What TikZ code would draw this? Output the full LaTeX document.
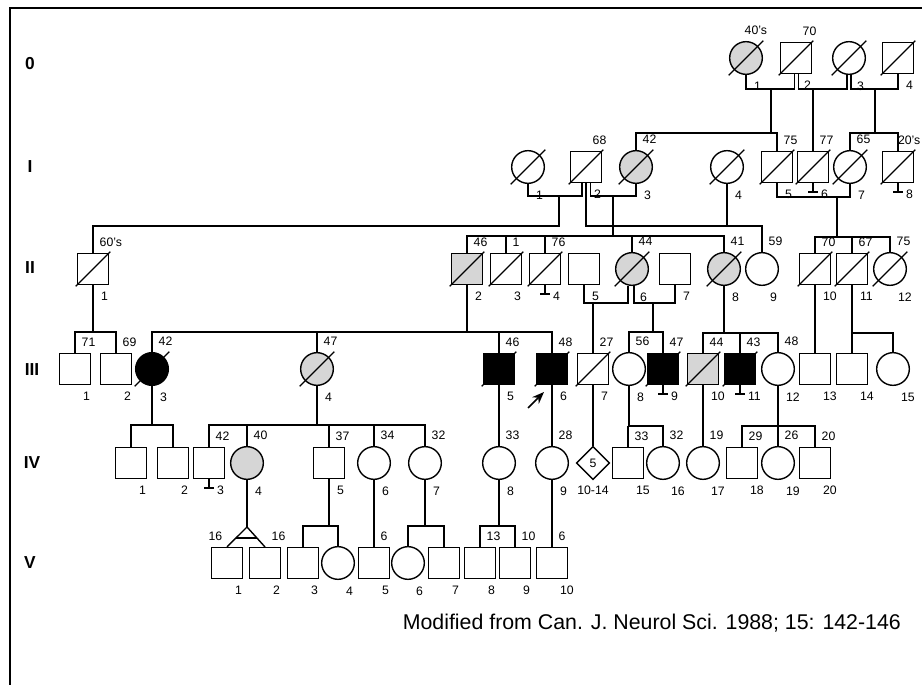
\documentclass[tikz,border=0pt]{standalone}
\usepackage{fontspec}
\setmainfont{Liberation Sans}
\usetikzlibrary{shapes.geometric,arrows.meta,calc}

% slash through a deceased person, stopper mark below
\newcommand{\dead}[1]{\draw ([shift={(-13pt,-13pt)}]#1.center) -- ([shift={(13pt,13pt)}]#1.center);}
\newcommand{\stopper}[1]{\draw (#1.south) -- ++(0,9) ++(-5,0) -- ++(10,0);}

\tikzset{
  male/.style={draw, rectangle, minimum size=23pt, inner sep=0pt},
  female/.style={draw, circle, minimum size=24.5pt, inner sep=0pt},
  multi/.style={draw, diamond, minimum size=25pt, inner sep=0pt},
  dotfill/.style={fill=gray!32},
  affected/.style={fill=black},
  agelab/.style={anchor=south west, inner sep=1pt, xshift=3.5pt, yshift=3.5pt},
  age/.style={label={[agelab]north:#1}},
  idlab/.style={anchor=north west, inner sep=1pt, xshift=4.5pt, yshift=-3.5pt},
  idn/.style={label={[idlab]south:#1}},
  gen/.style={font=\fontsize{13}{15}\selectfont\bfseries},
  probarrow/.style={-{Stealth[length=9pt,width=7pt]}, line width=1.2pt}
}

\begin{document}
\begin{tikzpicture}[x=0.75pt, y=-0.75pt, line width=1.05pt,
  every node/.style={font=\fontsize{9.2}{10}\selectfont}]
\useasboundingbox (0,0) rectangle (922,685);

% Frame
\draw (10,685) -- (10,8) -- (922,8);

% Generation labels
\node[gen] (r0) at (30,64) {0};
\node[gen] (rI) at (30,167) {I};
\node[gen] (rII) at (30,268) {II};
\node[gen] (rIII) at (32,370) {III};
\node[gen] (rIV) at (32,463) {IV};
\node[gen] (rV) at (30,563) {V};

% Generation 0
\node[female, dotfill, label={[agelab, xshift=-6pt]north:40's}, idn=1] (O1) at (746,58) {};
\node[male, age=70, idn=2] (O2) at (796,58) {};
\node[female, idn=3] (O3) at (849,58) {};
\node[male, idn=4] (O4) at (898,58) {};
\dead{O1} \dead{O2} \dead{O3} \dead{O4}

% Generation I
\node[female, idn=1] (I1) at (528,167) {};
\node[male, age=68, idn=2] (I2) at (586,167) {};
\node[female, dotfill, age=42, idn=3] (I3) at (636,167) {};
\node[female, idn=4] (I4) at (727,167) {};
\node[male, age=75, idn=5] (I5) at (777,167) {};
\node[male, age=77, idn=6] (I6) at (813,167) {};
\node[female, age=65, idn=7] (I7) at (850,167) {};
\node[male, label={[agelab, xshift=-5pt]north:20's}, idn=8] (I8) at (898,167) {};
\dead{I1} \dead{I2} \dead{I3} \dead{I4} \dead{I5} \dead{I6} \dead{I7} \dead{I8}
\stopper{I6} \stopper{I8}

% Generation II
\node[male, age=60's, idn=1] (II1) at (93,269) {};
\node[male, dotfill, age=46, idn=2] (II2) at (467,269) {};
\node[male, age=1, idn=3] (II3) at (506,269) {};
\node[male, age=76, idn=4] (II4) at (545,269) {};
\node[male, idn=5] (II5) at (584,269) {};
\node[female, dotfill, age=44, idn=6] (II6) at (632,269) {};
\node[male, idn=7] (II7) at (675,269) {};
\node[female, dotfill, age=41, idn=8] (II8) at (724,269) {};
\node[female, age=59, idn=9] (II9) at (762,269) {};
\node[male, age=70, idn=10] (II10) at (815,269) {};
\node[male, age=67, idn=11] (II11) at (852,269) {};
\node[female, age=75, idn=12] (II12) at (890,269) {};
\dead{II1} \dead{II2} \dead{II3} \dead{II4} \dead{II6} \dead{II8}
\dead{II10} \dead{II11} \dead{II12}
\stopper{II4}

% Generation III
\node[male, age=71, idn=1] (III1) at (75,369) {};
\node[male, age=69, idn=2] (III2) at (116,369) {};
\node[female, affected, age=42, idn=3] (III3) at (152,369) {};
\node[female, dotfill, age=47, idn=4] (III4) at (317,369) {};
\node[male, affected, age=46, idn=5] (III5) at (499,369) {};
\node[male, affected, age=48, idn=6] (III6) at (552,369) {};
\node[male, age=27, idn=7] (III7) at (593,369) {};
\node[female, age=56, idn=8] (III8) at (629,369) {};
\node[male, affected, age=47, idn=9] (III9) at (663,369) {};
\node[male, dotfill, age=44, idn=10] (III10) at (703,369) {};
\node[male, affected, age=43, idn=11] (III11) at (740,369) {};
\node[female, age=48, idn=12] (III12) at (778,369) {};
\node[male, idn=13] (III13) at (815,369) {};
\node[male, idn=14] (III14) at (852,369) {};
\node[female, idn=15] (III15) at (893,369) {};
\dead{III3} \dead{III4} \dead{III5} \dead{III6} \dead{III7} \dead{III9}
\dead{III10} \dead{III11}
\stopper{III9} \stopper{III11}

% Proband
\coordinate (prbtail) at (528,408);
\coordinate (prbtip) at (544,392);
\draw[probarrow] (prbtail) -- (prbtip);

% Generation IV
\node[male, idn=1] (IV1) at (131,463) {};
\node[male, idn=2] (IV2) at (173,463) {};
\node[male, age=42, idn=3] (IV3) at (209,463) {};
\node[female, dotfill, age=40, idn=4] (IV4) at (247,463) {};
\node[male, age=37, idn=5] (IV5) at (329,463) {};
\node[female, age=34, idn=6] (IV6) at (374,463) {};
\node[female, age=32, idn=7] (IV7) at (425,463) {};
\node[female, age=33, idn=8] (IV8) at (499,463) {};
\node[female, age=28, idn=9] (IV9) at (552,463) {};
\node[multi, label={[anchor=north, inner sep=1pt, yshift=-3pt]south:10-14}] (IVd) at (593,463) {5};
\node[male, age=33, idn=15] (IV15) at (628,463) {};
\node[female, age=32, idn=16] (IV16) at (663,463) {};
\node[female, age=19, idn=17] (IV17) at (703,463) {};
\node[male, age=29, idn=18] (IV18) at (742,463) {};
\node[female, age=26, idn=19] (IV19) at (778,463) {};
\node[male, age=20, idn=20] (IV20) at (815,463) {};
\stopper{IV3}

% Generation V
\node[male, label={[anchor=south east, inner sep=1pt, xshift=-2pt, yshift=3.5pt]north:16}, idn=1] (V1) at (227,563) {};
\node[male, age=16, idn=2] (V2) at (265,563) {};
\node[male, idn=3] (V3) at (303,563) {};
\node[female, idn=4] (V4) at (338,563) {};
\node[male, age=6, idn=5] (V5) at (374,563) {};
\node[female, idn=6] (V6) at (408,563) {};
\node[male, idn=7] (V7) at (444,563) {};
\node[male, age=13, idn=8] (V8) at (480,563) {};
\node[male, age=10, idn=9] (V9) at (515,563) {};
\node[male, age=6, idn=10] (V10) at (552,563) {};

% Generation 0 unions
\coordinate (uO12) at (771,89);
\coordinate (uO23) at (813,89);
\coordinate (uO34) at (875,89);
\coordinate (bI1) at (771,133);
\coordinate (bI2) at (875,133);
\draw (O1.south) |- (uO12) -| ([xshift=-1pt]O2.south);
\draw ([xshift=2pt]O2.south) |- (uO23) -| ([xshift=-1.5pt]O3.south);
\draw ([xshift=1.5pt]O3.south) |- (uO34) -| (O4.south);
\draw (uO12) -- (bI1);
\draw (I3.north) |- (bI1) -| (I5.north);
\draw (uO23) -- (I6.north);
\draw (uO34) -- (bI2);
\draw (I7.north) |- (bI2) -| (I8.north);

% Generation I unions
\coordinate (uI12) at (559,196);
\coordinate (uI13) at (613,196);
\coordinate (uI14) at (727,226);
\coordinate (uI57) at (837,197);
\coordinate (cII1) at (559,226);
\coordinate (bII1) at (613,236);
\coordinate (bII2) at (837,237);
\draw (I1.south) |- (uI12) -| ([xshift=-3pt]I2.south);
\draw ([xshift=3.5pt]I2.south) |- (uI13) -| (I3.south);
\draw (uI12) -- (cII1) -| (II1.north);
\draw (uI13) -- (bII1);
\draw (II2.north) |- (bII1) -| (II8.north);
\draw (II3.north) -- (II3.north |- bII1);
\draw (II4.north) -- (II4.north |- bII1);
\draw (II6.north) -- (II6.north |- bII1);
\draw (I2.south) |- (uI14) -| (II9.north);
\draw (I4.south) -- (uI14);
\draw (I5.south) |- (uI57) -| (I7.south);
\draw (uI57) -- (bII2);
\draw (II10.north) |- (bII2) -| (II12.north);
\draw (II11.north) -- (II11.north |- bII2);

% Generation II unions
\coordinate (bIII1) at (93,332);
\coordinate (bIII2) at (467,332);
\coordinate (uII56) at (593,303);
\coordinate (uII67) at (653,303);
\coordinate (bIII3) at (653,332);
\coordinate (bIII4) at (724,333);
\coordinate (bIII5) at (852,333);
\draw (II1.south) -- (bIII1);
\draw (III1.north) |- (bIII1) -| (III2.north);
\draw (II2.south) -- (bIII2);
\draw (III3.north) |- (bIII2) -| (III6.north);
\draw (III4.north) -- (III4.north |- bIII2);
\draw (III5.north) -- (III5.north |- bIII2);
\draw (II5.south) |- (uII56) -| ([xshift=-3pt]II6.south);
\draw ([xshift=1.5pt]II6.south) |- (uII67) -| (II7.south);
\draw (uII56) -- (III7.north);
\draw (uII67) -- (bIII3);
\draw (III8.north) |- (bIII3) -| (III9.north);
\draw (II8.south) -- (bIII4);
\draw (III10.north) |- (bIII4) -| (III12.north);
\draw (III11.north) -- (III11.north |- bIII4);
\draw (II10.south) -- (III13.north);
\draw (II11.south) -- (III14.north);
\draw (bIII5) -| (III15.north);

% Generation III unions
\coordinate (bIV1) at (152,425);
\coordinate (bIV2) at (317,425);
\coordinate (bIV3) at (628,426);
\coordinate (bIV4) at (778,426);
\draw (III3.south) -- (bIV1);
\draw (IV1.north) |- (bIV1) -| (IV2.north);
\draw (III4.south) -- (bIV2);
\draw (IV3.north) |- (bIV2) -| (IV7.north);
\draw (IV4.north) -- (IV4.north |- bIV2);
\draw (IV5.north) -- (IV5.north |- bIV2);
\draw (IV6.north) -- (IV6.north |- bIV2);
\draw (III5.south) -- (IV8.north);
\draw (III6.south) -- (IV9.north);
\draw (III7.south) -- (IVd.north);
\draw (III8.south) |- (bIV3) -| (IV16.north);
\draw (bIV3) -- (IV15.north);
\draw (III10.south) -- (IV17.north);
\draw (III12.south) -- (IV19.north);
\draw (IV18.north) |- (bIV4) -| (IV20.north);

% Generation IV unions
\coordinate (twin) at (247,527);
\coordinate (bV1) at (329,526);
\coordinate (bV2) at (425,526);
\coordinate (bV3) at (499,526);
\draw (IV4.south) -- (twin);
\draw (V1.north) -- (twin) -- (V2.north);
\draw ($(twin)!0.55!(V1.north)$) -- ($(twin)!0.55!(V2.north)$);
\draw (IV5.south) -- (bV1);
\draw (V3.north) |- (bV1) -| (V4.north);
\draw (IV6.south) -- (V5.north);
\draw (IV7.south) -- (bV2);
\draw (V6.north) |- (bV2) -| (V7.north);
\draw (IV8.south) -- (bV3);
\draw (V8.north) |- (bV3) -| (V9.north);
\draw (IV9.south) -- (V10.north);

% Source
\node[anchor=east, font=\fontsize{16}{19}\selectfont] (src) at (906,623) {Modified from Can. J. Neurol Sci. 1988; 15: 142-146};
\end{tikzpicture}
\end{document}
